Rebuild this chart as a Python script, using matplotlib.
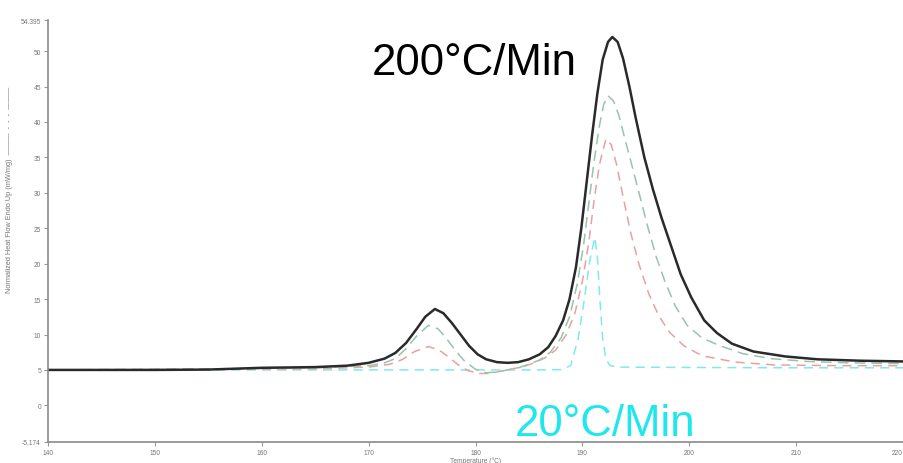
import matplotlib
matplotlib.use("Agg")
import matplotlib.pyplot as plt

plt.rcParams['font.family'] = ['Liberation Sans', 'DejaVu Sans']

# 200 °C/min (black solid)
t_200 = [140, 150, 155, 160, 165, 168, 170, 171.5, 172.5, 173.5, 174.5, 175.3, 176.2, 177.0,
         177.8, 178.6, 179.4, 180.2, 181.0, 182.0, 183.0, 184.0, 185.0, 186.0, 186.8, 187.5,
         188.2, 188.8, 189.4, 189.9, 190.4, 190.9, 191.4, 191.9, 192.4, 192.8, 193.3, 193.8,
         194.4, 195.0, 195.8, 196.6, 197.4, 198.3, 199.2, 200.2, 201.4, 202.6, 204.0, 206.0,
         209.0, 212.0, 216.0, 220.0]
h_200 = [5.0, 5.0, 5.05, 5.3, 5.4, 5.6, 6.0, 6.6, 7.4, 8.8, 10.8, 12.5, 13.6, 13.0,
         11.6, 10.0, 8.4, 7.2, 6.5, 6.1, 6.0, 6.1, 6.5, 7.2, 8.2, 9.8,
         12.0, 15.0, 19.5, 25.0, 31.5, 38.0, 44.0, 48.8, 51.3, 52.0, 51.3, 49.0,
         45.0, 40.5, 35.0, 30.5, 26.5, 22.5, 18.5, 15.2, 12.0, 10.2, 8.7, 7.6,
         6.9, 6.5, 6.3, 6.2]

# green dashed
t_g = [140, 160, 165, 170, 171.5, 172.5, 173.5, 174.5, 175.6, 176.5, 177.3, 178.2, 179.0,
       180.0, 181.0, 182.0, 183.0, 184.0, 185.0, 186.0, 187.0, 188.0, 188.8, 189.5, 190.1,
       190.6, 191.1, 191.6, 192.0, 192.4, 192.9, 193.4, 194.0, 194.7, 195.4, 196.1, 196.9,
       197.7, 198.7, 199.8, 201.2, 202.9, 205.0, 207.6, 211.0, 215.0, 220.0]
h_g = [5.0, 5.2, 5.3, 5.6, 6.0, 6.6, 8.0, 9.8, 11.3, 10.8, 9.4, 7.6, 6.2,
       5.1, 4.6, 4.7, 5.0, 5.3, 5.8, 6.4, 7.5, 9.5, 12.5, 17.0, 22.5,
       28.5, 34.5, 39.5, 42.5, 43.7, 43.0, 41.0, 37.5, 33.5, 29.4, 25.3, 21.0,
       17.6, 14.0, 11.3, 9.5, 8.4, 7.3, 6.6, 6.2, 6.0, 5.9]

# red dashed
t_r = [140, 160, 166, 170, 172, 173.2, 174.3, 175.6, 176.6, 177.5, 178.4, 179.3, 180.3,
       181.3, 182.3, 183.3, 184.5, 185.5, 186.5, 187.5, 188.5, 189.3, 190.0, 190.6, 191.1,
       191.6, 192.2, 192.7, 193.2, 193.8, 194.5, 195.3, 196.2, 197.1, 198.1, 199.5, 201.2,
       204.3, 208.0, 214.0, 220.0]
h_r = [5.0, 5.1, 5.2, 5.4, 5.8, 6.5, 7.6, 8.3, 7.8, 6.8, 5.7, 4.9, 4.5,
       4.5, 4.8, 5.1, 5.5, 6.0, 6.7, 7.8, 10.0, 13.0, 17.5, 23.0, 29.0,
       34.0, 37.6, 36.8, 34.0, 29.5, 24.5, 19.9, 15.8, 12.8, 10.4, 8.4, 7.0,
       6.1, 5.7, 5.6, 5.6]

# 20 °C/min (cyan dashed)
t_20 = [140, 186, 188.0, 188.9, 189.6, 190.2, 190.7, 191.16, 191.4, 191.63, 191.9, 192.2,
        192.6, 193.5, 200, 210, 220]
h_20 = [5.0, 5.0, 5.05, 5.6, 9.4, 15.1, 20.5, 23.7, 21.0, 15.1, 9.4, 6.5,
        5.6, 5.4, 5.35, 5.3, 5.3]

x_ticks = [140, 150, 160, 170, 180, 190, 200, 210, 220]
x_labels = ['140', '150', '160', '170', '180', '190', '200', '210', '220']
y_ticks = [-5.174, 0, 5, 10, 15, 20, 25, 30, 35, 40, 45, 50, 54.395]
y_labels = ['-5.174', '0', '5', '10', '15', '20', '25', '30', '35', '40', '45', '50', '54.395']

fig = plt.figure(figsize=(9.04, 4.64), dpi=100)
ax = fig.add_axes([48 / 904, 21 / 464, (903 - 48) / 904, (443 - 21) / 464])

ax.plot(t_20, h_20, color='#80eaea', lw=1.1, dashes=(6, 4))
ax.plot(t_r, h_r, color='#eaa0a0', lw=1.1, dashes=(6, 4))
ax.plot(t_g, h_g, color='#96c4ad', lw=1.1, dashes=(7, 4))
ax.plot(t_200, h_200, color='#2a2a2a', lw=1.8)

ax.set_xlim(140, 220)
ax.set_ylim(-5.174, 54.395)
ax.set_xticks(x_ticks)
ax.set_xticklabels(x_labels)
ax.set_yticks(y_ticks)
ax.set_yticklabels(y_labels)
ax.tick_params(axis='both', labelsize=4.8, labelcolor='#777777', color='#999999',
               length=3, width=0.8, pad=2)
ax.get_xticklabels()[-1].set_horizontalalignment('right')
for side in ['top', 'right']:
    ax.spines[side].set_visible(False)
for side in ['left', 'bottom']:
    ax.spines[side].set_color('#8a8a8a')
    ax.spines[side].set_linewidth(1.2)

ax.set_xlabel('Temperature (°C)', fontsize=4.8, color='#777777', labelpad=0.3)
ax.set_ylabel('Normalized Heat Flow Endo Up (mW/mg)  ———  -  -  -  ———', fontsize=5.3,
              color='#777777', labelpad=4)
ax.yaxis.set_label_coords(-0.041, 0.6)

fig.text(372 / 904, 1 - 75 / 464, '200°C/Min', fontsize=31.5, color='black',
         ha='left', va='baseline')
fig.text(515 / 904, 1 - 436 / 464, '20°C/Min', fontsize=31.5, color='#1ee8ee',
         ha='left', va='baseline')

fig.savefig('out.png', dpi=100)
